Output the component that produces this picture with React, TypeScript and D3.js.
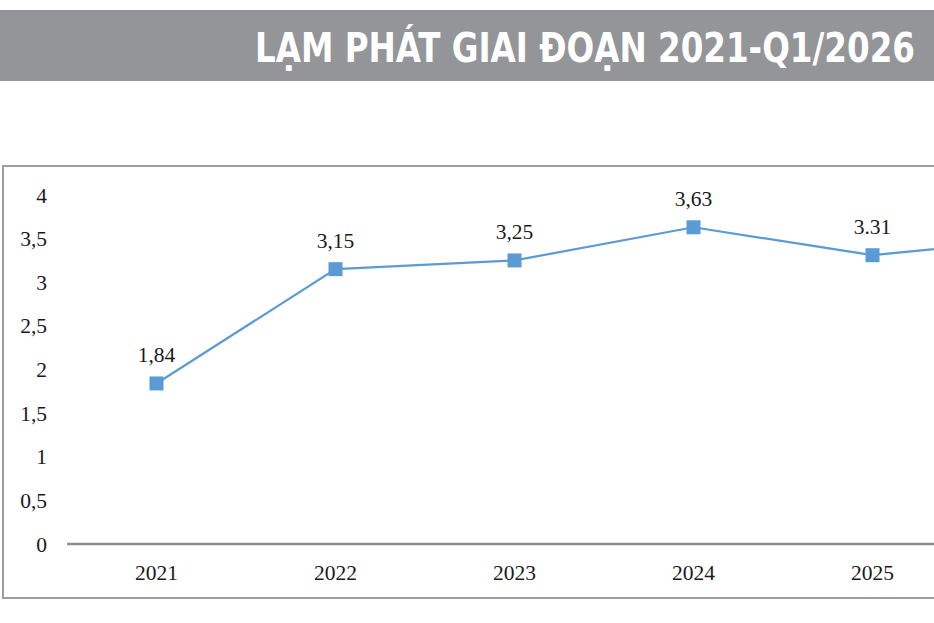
import * as d3 from "d3";

const periods = ["2021", "2022", "2023", "2024", "2025", "Q1/2026"];
const inflation = [1.84, 3.15, 3.25, 3.63, 3.31, 3.51];
const valueLabels = ["1,84", "3,15", "3,25", "3,63", "3.31", "3,51"];
const yTicks = [0, 0.5, 1, 1.5, 2, 2.5, 3, 3.5, 4];
const title = "LẠM PHÁT GIAI ĐOẠN 2021-Q1/2026";

const W = 934;
const H = 623;
const BLUE = "#5b9bd5";
const serif = "'Liberation Serif', 'Times New Roman', serif";

const App = () => {
  const x = d3.scaleBand<string>().domain(periods).range([67, 67 + 179 * periods.length]);
  const y = d3.scaleLinear().domain([0, 4]).range([544, 195]);
  const cx = (p: string) => (x(p) ?? 0) + x.bandwidth() / 2;

  const line = d3
    .line<number>()
    .x((_, i) => cx(periods[i]))
    .y((d) => y(d));

  const fmt = (t: number) => String(t).replace(".", ",");

  return (
    <div style={{ position: "absolute", left: 0, top: 0 }}>
      <svg width={W} height={H} style={{ display: "block", background: "#fff" }}>
        {/* header band */}
        <rect x={0} y={10} width={W + 20} height={71} fill="#939598" />
        <text
          x={915}
          y={62}
          textAnchor="end"
          fill="#fff"
          fontFamily="'Liberation Sans Narrow', 'DejaVu Sans Condensed', 'Open Sans', sans-serif"
          fontWeight={700}
          fontSize={41}
          textLength={660}
          lengthAdjust="spacingAndGlyphs"
        >
          {title}
        </text>

        {/* chart frame */}
        <rect x={3} y={166} width={1300} height={432} fill="none" stroke="#9d9d9d" strokeWidth={2} />

        {/* y axis labels */}
        {yTicks.map((t) => (
          <text
            key={t}
            x={47}
            y={y(t)}
            dy="0.35em"
            textAnchor="end"
            fontFamily={serif}
            fontSize={21.5}
            fill="#1a1a1a"
          >
            {fmt(t)}
          </text>
        ))}

        {/* x axis */}
        <line x1={67} x2={1300} y1={y(0)} y2={y(0)} stroke="#8c8c8c" strokeWidth={2.5} />
        {periods.map((p) => (
          <text
            key={p}
            x={cx(p)}
            y={572}
            dy="0.35em"
            textAnchor="middle"
            fontFamily={serif}
            fontSize={21.5}
            fill="#1a1a1a"
          >
            {p}
          </text>
        ))}

        {/* series */}
        <path d={line(inflation) ?? ""} fill="none" stroke={BLUE} strokeWidth={2.2} />
        {inflation.map((v, i) => (
          <g key={periods[i]}>
            <rect x={cx(periods[i]) - 7} y={y(v) - 7} width={14} height={14} fill={BLUE} />
            <text
              x={cx(periods[i])}
              y={y(v) - 21}
              textAnchor="middle"
              fontFamily={serif}
              fontSize={21.5}
              fill="#1a1a1a"
            >
              {valueLabels[i]}
            </text>
          </g>
        ))}
      </svg>
    </div>
  );
};

export default App;
